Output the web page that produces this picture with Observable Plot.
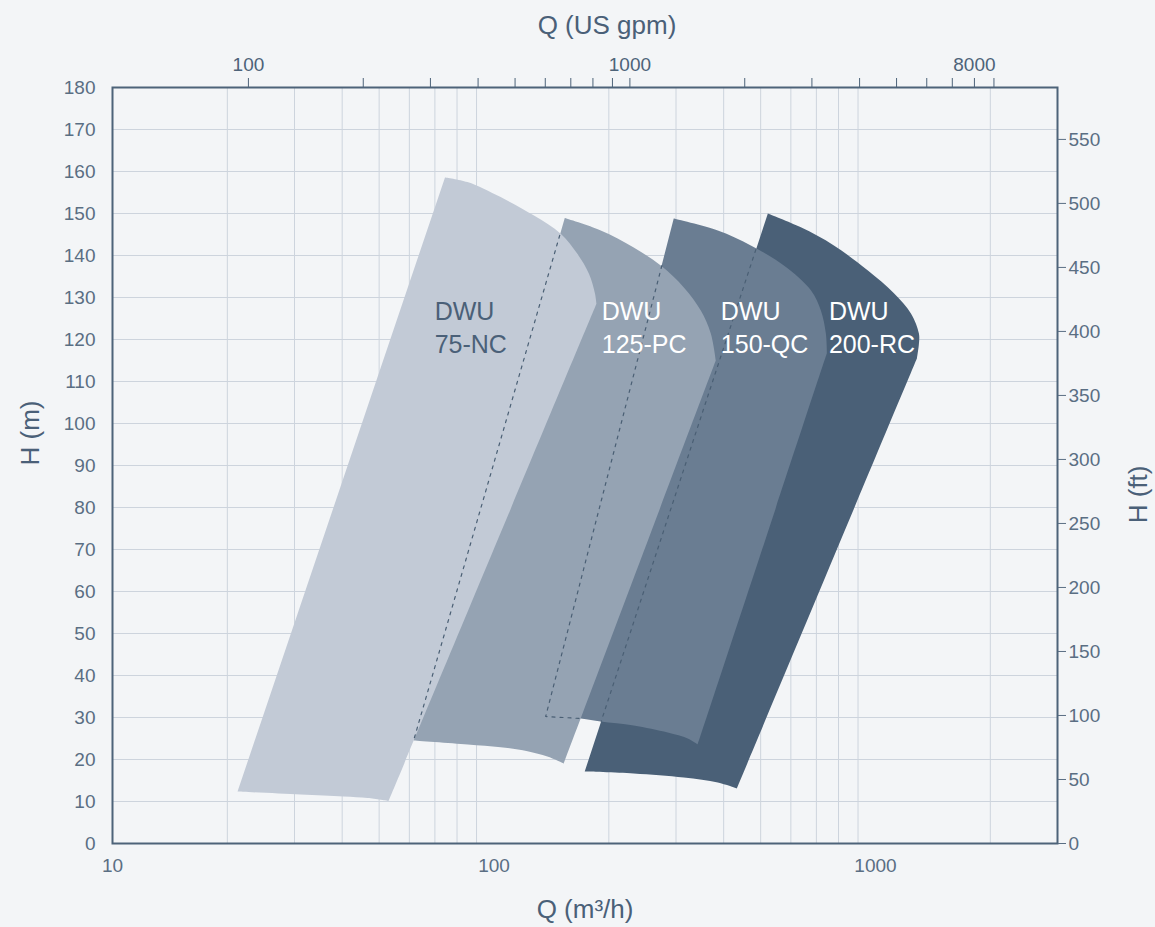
<!DOCTYPE html>
<html><head><meta charset="utf-8">
<script src="https://cdn.jsdelivr.net/npm/d3@7"></script>
<script src="https://cdn.jsdelivr.net/npm/@observablehq/plot@0.6"></script>
<style>html,body{margin:0;padding:0;background:#f3f5f7;}</style>
</head><body><div id="chart"></div>
<script>
// unit conversions
const GPM_PER_M3H = 4.40287;
const M_PER_FT = 0.3048;

// ---- data: pump range envelopes, Q in m3/h, H in m ----
const nc75Q = [21.27, 31.12, 40.35, 46.65, 52.94, 185.6, 184.0, 177.5, 165.4, 149.6, 127.3, 104.1, 85.2, 74.4];
const nc75H = [12.38, 11.67, 11.19, 10.83, 10.12, 128.5, 130.9, 135.6, 140.4, 145.2, 149.5, 153.9, 157.5, 158.6];
const nc75Corners = [0, 4, 5, 13];

const pc125Q = [61.56, 85.3, 104.1, 122.4, 138.0, 152.4, 381.4, 370.1, 348.4, 314.5, 273.6, 232.4, 190.5, 153.3];
const pc125H = [24.52, 23.57, 22.93, 21.98, 20.71, 19.05, 115.0, 121.4, 126.9, 132.4, 137.6, 141.9, 145.95, 148.9];
const pc125Corners = [0, 5, 6, 13];

const qc150Q = [136.6, 168.9, 190.5, 232.4, 285.4, 322.1, 342.1, 745.7, 741.2, 719.2, 677.1, 575.2, 471.2, 386.1, 295.9];
const qc150H = [30.24, 29.76, 29.05, 28.1, 26.43, 25.0, 23.57, 116.7, 121.4, 126.9, 131.7, 137.6, 142.4, 145.95, 148.8];
const qc150Corners = [0, 6, 7, 14];

const rc200Q = [172.9, 232.4, 314.5, 386.1, 433.0, 1284, 1299.8, 1299.8, 1238.6, 1117.8, 955.3, 777.9, 637.4, 522.2];
const rc200H = [17.14, 16.67, 15.71, 14.52, 13.1, 115.5, 119.0, 121.4, 126.2, 131.0, 136.4, 142.4, 146.7, 150.0];
const rc200Corners = [0, 4, 5, 13];

// hidden (covered) edges drawn dashed
const hid125Q = [148.7, 61.56];
const hid125H = [144.8, 24.52];
const hid150Q = [275.4, 136.6, 168.9];
const hid150H = [137.6, 30.24, 29.76];
const hid200Q = [485.7, 191.0];
const hid200H = [141.4, 29.1];

// labels
const labelText = ["DWU\n75-NC", "DWU\n125-PC", "DWU\n150-QC", "DWU\n200-RC"];
const labelQ = [69.9, 191.6, 393.2, 754.9];
const labelH = [116.9, 116.9, 116.9, 116.9];

// axes ticks
const yTicks = d3.range(0, 181, 10);
const xTicks = [10, 100, 1000];
const gridX = [20, 30, 40, 50, 60, 70, 80, 90, 200, 300, 400, 500, 600, 700, 800, 900, 2000];
const gridY = d3.range(10, 180, 10);
const gpmTicks = [100, 200, 300, 400, 500, 600, 700, 800, 900, 1000, 2000, 3000, 4000, 5000, 6000, 7000, 8000, 9000];
const gpmLabels = [100, 1000, 8000];
const ftTicks = d3.range(0, 551, 50);

// corners are repeated so the Catmull-Rom curve keeps straight edges and sharp corners
const outline = (Q, H, corners) => Q.flatMap((q, i) => {
  const p = {Q: q, H: H[i]};
  return corners.includes(i) ? [p, p] : [p];
});
const pts = (Q, H) => Q.map((q, i) => ({Q: q, H: H[i]}));

const shapes = [
  {data: outline(rc200Q, rc200H, rc200Corners), fill: "#4a6077"},
  {data: outline(qc150Q, qc150H, qc150Corners), fill: "#6a7d92"},
  {data: outline(pc125Q, pc125H, pc125Corners), fill: "#95a3b3"},
  {data: outline(nc75Q, nc75H, nc75Corners), fill: "#c2cad6"}
];
const hidden = [[hid125Q, hid125H], [hid150Q, hid150H], [hid200Q, hid200H]];
const labels = labelText.map((t, i) => ({t, Q: labelQ[i], H: labelH[i], c: i === 0 ? "#4a6078" : "#ffffff"}));

const axisColor = "#5a6e83";
const frameColor = "#4d6379";
const font = "'Liberation Sans', Arial, Helvetica, sans-serif";

const chart = Plot.plot({
  width: 1155,
  height: 927,
  marginLeft: 112,
  marginRight: 98,
  marginTop: 87,
  marginBottom: 84,
  style: {background: "#f3f5f7", fontFamily: font},
  x: {type: "log", domain: [10, 3000]},
  y: {domain: [0, 180]},
  marks: [
    Plot.ruleX(gridX, {stroke: "#cdd4dd", strokeWidth: 1}),
    Plot.ruleY(gridY, {stroke: "#cdd4dd", strokeWidth: 1}),
    ...shapes.map(s => Plot.line(s.data, {x: "Q", y: "H", fill: s.fill, stroke: "none", curve: "catmull-rom"})),
    ...hidden.map(([Q, H]) => Plot.line(pts(Q, H), {x: "Q", y: "H", stroke: "#4a5f74", strokeWidth: 1.2, strokeDasharray: "3,5"})),
    Plot.text(labels, {x: "Q", y: "H", text: "t", fill: "c", textAnchor: "start", lineAnchor: "bottom", lineHeight: 1.32, fontSize: 25}),
    Plot.frame({stroke: frameColor, strokeWidth: 2}),
    Plot.axisY({ticks: yTicks, tickSize: 0, tickPadding: 17, fontSize: 19, color: axisColor, label: null}),
    Plot.axisY({anchor: "right", ticks: ftTicks.map(f => f * M_PER_FT), tickFormat: d => String(Math.round(d / M_PER_FT)), tickSize: 8, tickPadding: 3, fontSize: 19, color: axisColor, label: null}),
    Plot.axisX({ticks: xTicks, tickSize: 0, tickPadding: 15, fontSize: 19, color: axisColor, tickFormat: d => String(d), label: null}),
    Plot.axisX({anchor: "top", ticks: gpmTicks.map(g => g / GPM_PER_M3H), tickSize: 10, tickPadding: 7, fontSize: 19, color: frameColor,
      tickFormat: d => { const g = Math.round(d * GPM_PER_M3H); return gpmLabels.includes(g) ? String(g) : ""; }, label: null}),
    Plot.text(["Q (US gpm)"], {frameAnchor: "top", dy: -54, dx: 22, lineAnchor: "bottom", fontSize: 26, fill: "#4a6078"}),
    Plot.text(["Q (m³/h)"], {frameAnchor: "bottom", dy: 74, lineAnchor: "bottom", fontSize: 26, fill: "#4a6078"}),
    Plot.text(["H (m)"], {frameAnchor: "left", dx: -82, rotate: -90, lineAnchor: "middle", fontSize: 26, fill: "#4a6078"}),
    Plot.text(["H (ft)"], {frameAnchor: "right", dx: 81, rotate: -90, lineAnchor: "middle", fontSize: 26, fill: "#4a6078"})
  ]
});
document.getElementById("chart").append(chart);
</script>
</body></html>
